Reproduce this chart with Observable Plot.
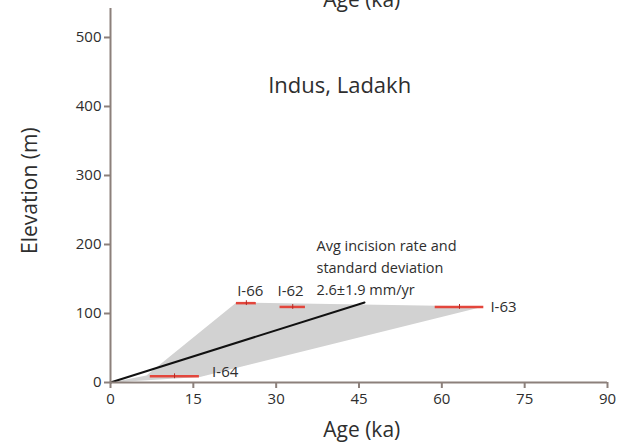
<!DOCTYPE html>
<html>
<head>
<meta charset="utf-8">
<script src="https://cdn.jsdelivr.net/npm/d3@7"></script>
<script src="https://cdn.jsdelivr.net/npm/@observablehq/plot@0.6"></script>
<style>
  html, body { margin: 0; padding: 0; background: #fff; }
  svg { display: block; }
</style>
</head>
<body>
<div id="chart"></div>
<script>
// ---- data ----
const samples = ["I-66", "I-62", "I-63", "I-64"];
const ages    = [24.6, 33.0, 63.2, 11.6];   // ka
const ageMin  = [22.8, 30.7, 58.8, 7.2];
const ageMax  = [26.4, 35.3, 67.6, 16.1];
const elevs   = [115, 109.5, 109.5, 9];     // m

// label placement (data coordinates)
const labelAge  = [25.3, 32.6, 68.8, 18.4];
const labelElev = [132, 132, 109.5, 15];
const labelSide = ["above", "above", "right", "right"];

const envelopeAge  = [0, 6.5, 22.8, 67.6, 16.2];
const envelopeElev = [0, 10, 116, 110, 8];

const rateAge  = [0, 46];
const rateElev = [0, 116];

const xTicks = [0, 15, 30, 45, 60, 75, 90];
const yTicks = [0, 100, 200, 300, 400, 500];

const title = "Indus, Ladakh";
const rateNote = "Avg incision rate and\nstandard deviation\n2.6±1.9 mm/yr";
const xLabel = "Age (ka)";
const yLabel = "Elevation (m)";

// ---- tables ----
const points = samples.map((s, i) => ({
  sample: s, age: ages[i], lo: ageMin[i], hi: ageMax[i], elev: elevs[i],
  lx: labelAge[i], ly: labelElev[i], side: labelSide[i]
}));
const envelope = envelopeAge.map((a, i) => ({age: a, elev: envelopeElev[i]}));
const rate = rateAge.map((a, i) => ({age: a, elev: rateElev[i]}));

const axisColor = "#8c807b";
const textColor = "#2e2e2e";
const font = "'Open Sans', sans-serif";

const chart = Plot.plot({
  width: 620,
  height: 447,
  marginLeft: 110,
  marginRight: 13,
  marginTop: 8,
  marginBottom: 65,
  style: {fontFamily: font, background: "#fff", color: textColor, overflow: "visible"},
  x: {domain: [0, 90]},
  y: {domain: [0, 542]},
  marks: [
    Plot.line(envelope.concat([envelope[0]]), {
      x: "age", y: "elev", fill: "#d2d2d2", stroke: "none"
    }),
    Plot.line(rate, {x: "age", y: "elev", stroke: "#111", strokeWidth: 2}),
    Plot.ruleY(points, {y: "elev", x1: "lo", x2: "hi", stroke: "#e3463c", strokeWidth: 2.5}),
    Plot.ruleX(points, {x: "age", y1: d => d.elev - 3.5, y2: d => d.elev + 3.5, stroke: "#b22a24", strokeWidth: 1}),
    Plot.text(points.filter(d => d.side === "above"), {
      x: "lx", y: "ly", text: "sample", textAnchor: "middle",
      fontSize: 15, fill: textColor
    }),
    Plot.text(points.filter(d => d.side === "right"), {
      x: "lx", y: "ly", text: "sample", textAnchor: "start",
      fontSize: 15, fill: textColor
    }),
    Plot.text([rateNote], {
      x: 37.3, y: 169, text: d => d, textAnchor: "start", lineAnchor: "middle",
      lineHeight: 1.5, fontSize: 14.5, fill: textColor
    }),
    Plot.text([title], {
      x: 41.5, y: 430, text: d => d, fontSize: 22, fill: textColor
    }),
    Plot.text([xLabel], {
      x: 45.5, frameAnchor: "bottom", dy: 48, lineAnchor: "middle", text: d => d, fontSize: 21, fill: textColor
    }),
    Plot.text([xLabel], {
      x: 45.5, frameAnchor: "top", dy: -8, lineAnchor: "middle", text: d => d, fontSize: 21, fill: textColor
    }),
    Plot.text([yLabel], {
      x: -14.5, y: 278, rotate: -90, lineAnchor: "middle", textAnchor: "middle",
      text: d => d, fontSize: 21, fill: textColor
    }),
    Plot.axisX({
      ticks: xTicks, tickSize: 6, tickPadding: 5, stroke: axisColor, strokeWidth: 2,
      fill: textColor, fontSize: 15, label: null
    }),
    Plot.axisY({
      ticks: yTicks, tickSize: 6, tickPadding: 3, stroke: axisColor, strokeWidth: 2,
      fill: textColor, fontSize: 15, label: null
    }),
    Plot.ruleY([0], {stroke: axisColor, strokeWidth: 2}),
    Plot.ruleX([0], {stroke: axisColor, strokeWidth: 2})
  ]
});

document.getElementById("chart").appendChild(chart);
</script>
</body>
</html>
